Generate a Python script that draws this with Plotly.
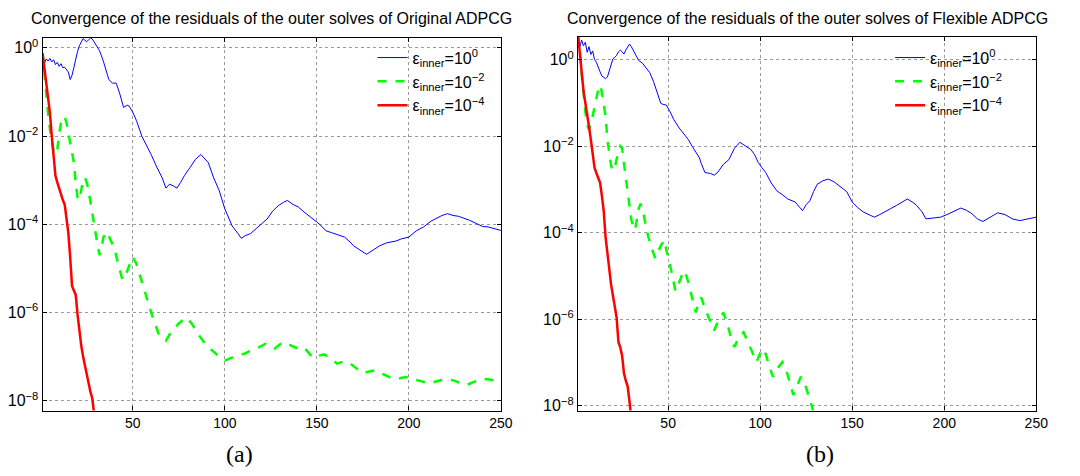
import plotly.graph_objects as go

# ---------------- data (residuals stored as log10) ----------------
a_blue_it = [1,2,3,4,5,6,7,8,9,10,11,12,13,14,15,16,17,18,19,20,21,22,23,24,25,26,27,28,30,32,34,36,37,39,41,43,45,47,48,50,52,55,58,60,63,66,68,70,72,74,76,78,81,84,87,89,91,94,97,100,102,104,107,109,111,114,117,120,123,126,129,132,134,137,140,143,147,150,152,155,158,161,165,168,170,174,177,180,184,188,193,196,200,204,208,212,215,218,221,224,227,230,233,236,240,243,246,250]
a_blue_lg = [-0.56,-0.35,-0.25,-0.30,-0.24,-0.32,-0.27,-0.38,-0.33,-0.42,-0.36,-0.45,-0.44,-0.50,-0.55,-0.72,-0.62,-0.45,-0.25,-0.08,0.05,0.15,0.21,0.17,0.14,0.18,0.22,0.20,0.05,-0.07,-0.30,-0.55,-0.72,-0.80,-0.80,-1.05,-1.35,-1.30,-1.32,-1.46,-1.65,-2.01,-2.25,-2.42,-2.70,-2.95,-3.18,-3.09,-3.13,-3.18,-3.05,-2.90,-2.72,-2.53,-2.42,-2.50,-2.60,-2.95,-3.24,-3.65,-3.85,-4.04,-4.20,-4.32,-4.26,-4.21,-4.10,-3.98,-3.88,-3.70,-3.58,-3.50,-3.46,-3.55,-3.61,-3.72,-3.84,-3.95,-4.02,-4.15,-4.19,-4.23,-4.29,-4.40,-4.49,-4.60,-4.68,-4.60,-4.49,-4.42,-4.38,-4.33,-4.29,-4.15,-4.06,-3.93,-3.87,-3.80,-3.76,-3.80,-3.82,-3.86,-3.91,-3.97,-4.05,-4.06,-4.10,-4.14]

a_green_it = [1,2,3,4,5,6,7,8,9,10,11,12,13,14,15,16,17,18,19,20,21,22,23,24,25,26,28,30,31,32,33,34,36,38,40,42,44,45,47,49,50,52,54,56,58,60,62,64,66,68,70,72,75,79,82,86,90,93,97,100,104,107,111,114,118,122,125,127,130,132,136,140,143,146,148,151,154,158,161,164,167,171,175,179,182,186,190,193,196,200,205,211,215,220,225,231,235,240,244,248,250]
a_green_lg = [-0.12,-0.6,-1.1,-1.5,-1.85,-2.15,-2.35,-2.42,-2.30,-1.95,-1.70,-1.58,-1.56,-1.70,-1.95,-2.15,-2.40,-2.60,-3.05,-3.40,-3.45,-3.20,-3.00,-2.94,-3.05,-3.24,-3.70,-4.25,-4.50,-4.70,-4.55,-4.30,-4.17,-4.35,-4.55,-4.88,-5.20,-5.26,-5.05,-4.80,-4.74,-4.90,-5.17,-5.45,-5.75,-6.00,-6.23,-6.48,-6.55,-6.64,-6.50,-6.38,-6.25,-6.11,-6.25,-6.52,-6.75,-6.86,-7.00,-7.09,-7.02,-6.97,-6.93,-6.86,-6.80,-6.71,-6.78,-6.82,-6.72,-6.67,-6.75,-6.82,-6.79,-6.95,-7.03,-6.98,-6.95,-7.05,-7.16,-7.12,-7.12,-7.25,-7.38,-7.33,-7.31,-7.40,-7.48,-7.52,-7.48,-7.46,-7.54,-7.61,-7.56,-7.50,-7.55,-7.65,-7.58,-7.50,-7.52,-7.55,-7.58]

a_red_it = list(range(1, 30))
a_red_lg = [-0.12,-0.45,-0.80,-1.15,-1.48,-2.00,-2.50,-2.90,-3.05,-3.20,-3.32,-3.45,-3.55,-3.85,-4.20,-4.75,-5.40,-5.50,-5.60,-6.05,-6.45,-6.75,-7.00,-7.20,-7.45,-7.65,-7.80,-7.95,-8.30]

b_blue_it = [1,2,3,4,5,6,7,8,9,10,11,12,13,14,15,16,17,18,19,20,21,22,23,24,25,26,27,28,29,30,32,34,36,38,40,42,44,46,47,49,51,53,56,58,61,63,65,67,68,70,73,75,77,80,83,86,89,92,95,97,99,101,103,106,109,112,115,119,121,123,125,127,129,131,134,137,140,142,145,147,150,153,156,159,162,165,168,171,174,177,180,183,185,188,190,194,198,202,206,209,212,215,218,221,225,229,233,237,241,245,250]
b_blue_lg = [0.51,0.30,0.45,0.32,0.40,0.17,0.30,0.12,0.20,0.00,-0.06,-0.15,-0.28,-0.38,-0.42,-0.44,-0.40,-0.25,-0.08,0.02,0.05,0.10,0.18,0.22,0.18,0.13,0.22,0.30,0.36,0.30,0.15,-0.02,-0.08,-0.20,-0.30,-0.50,-0.75,-1.01,-1.03,-1.05,-1.20,-1.38,-1.58,-1.70,-1.85,-2.00,-2.15,-2.27,-2.40,-2.61,-2.63,-2.67,-2.60,-2.42,-2.31,-2.05,-1.91,-2.00,-2.08,-2.20,-2.38,-2.50,-2.61,-2.85,-3.03,-3.12,-3.22,-3.29,-3.38,-3.49,-3.35,-3.26,-3.05,-2.88,-2.80,-2.76,-2.82,-2.88,-2.98,-3.05,-3.29,-3.42,-3.52,-3.58,-3.64,-3.58,-3.50,-3.44,-3.37,-3.30,-3.22,-3.30,-3.37,-3.52,-3.68,-3.66,-3.64,-3.57,-3.48,-3.43,-3.48,-3.56,-3.68,-3.74,-3.64,-3.54,-3.58,-3.68,-3.72,-3.69,-3.64]

b_green_it = [1,2,3,4,5,6,7,8,9,10,11,12,13,14,15,16,17,18,19,20,21,22,23,24,25,26,27,28,29,30,31,32,33,34,35,36,38,39,41,43,44,46,48,49,51,53,54,56,58,59,61,63,65,67,68,70,72,75,77,79,80,82,84,86,88,91,93,95,98,101,103,105,107,109,112,114,116,118,120,122,124,126,128,129]
b_green_lg = [0.55,0.2,-0.3,-0.8,-1.2,-1.5,-1.62,-1.50,-1.30,-1.15,-0.95,-0.70,-0.59,-0.75,-1.05,-1.30,-1.85,-2.20,-2.45,-2.57,-2.50,-2.30,-2.10,-2.00,-2.05,-2.40,-2.75,-3.07,-3.40,-3.70,-3.85,-3.94,-3.70,-3.45,-3.33,-3.45,-3.85,-4.06,-4.35,-4.59,-4.50,-4.30,-4.17,-4.40,-4.74,-5.10,-5.35,-5.15,-4.92,-4.88,-5.15,-5.50,-5.84,-5.55,-5.50,-5.75,-5.96,-6.26,-6.05,-5.90,-5.85,-6.07,-6.40,-6.64,-6.45,-6.30,-6.50,-6.70,-6.99,-6.68,-6.80,-7.10,-7.33,-7.15,-6.99,-7.15,-7.45,-7.75,-7.55,-7.33,-7.45,-7.70,-8.00,-8.15]

b_red_it = list(range(1, 31))
b_red_lg = [0.60,0.10,-0.35,-0.72,-1.00,-1.24,-1.55,-1.85,-2.20,-2.50,-2.62,-2.75,-2.84,-3.15,-3.50,-4.10,-4.50,-4.85,-5.20,-5.45,-5.70,-5.96,-6.53,-6.65,-6.85,-7.25,-7.42,-7.55,-7.90,-8.30]

series_names = ["ε<sub>inner</sub>=10<sup>0</sup>",
                "ε<sub>inner</sub>=10<sup>−2</sup>",
                "ε<sub>inner</sub>=10<sup>−4</sup>"]
titles = ["Convergence of the residuals of the outer solves of Original ADPCG",
          "Convergence of the residuals of the outer solves of Flexible ADPCG"]
panel_labels = ["(a)", "(b)"]
x_ticks = [50, 100, 150, 200, 250]
y_tick_exps = [0, -2, -4, -6, -8]
y_tick_text = ["10<sup>0</sup>", "10<sup>−2</sup>", "10<sup>−4</sup>", "10<sup>−6</sup>", "10<sup>−8</sup>"]

# ---------------- figure ----------------
# the page body keeps an 8px margin, so the figure is 16px smaller than the window
OFF = 8
W, H = 1080 - 2 * OFF, 476 - 2 * OFF
fig = go.Figure()

styles = [dict(color="#0000ff", width=1.0),
          dict(color="#00ff00", width=2.5, dash="dash"),
          dict(color="#ff0000", width=2.5)]

panels = [
    ("x", "y", "legend", [(a_blue_it, a_blue_lg), (a_green_it, a_green_lg), (a_red_it, a_red_lg)]),
    ("x2", "y2", "legend2", [(b_blue_it, b_blue_lg), (b_green_it, b_green_lg), (b_red_it, b_red_lg)]),
]
for xa, ya, lg, data in panels:
    for k, (it, lgv) in enumerate(data):
        fig.add_trace(go.Scatter(
            x=it, y=[10 ** v for v in lgv], mode="lines",
            line=styles[k], name=series_names[k],
            xaxis=xa, yaxis=ya, legend=lg, showlegend=True))

def px_x(p):
    return (p - OFF) / W

def px_y(p):
    return 1 - (p - OFF) / H

axis_common = dict(
    showline=True, linecolor="black", linewidth=1.2, mirror="ticks",
    ticks="inside", ticklen=4, tickcolor="black",
    showgrid=True, gridcolor="#9a9a9a", griddash="dot", gridwidth=1,
    zeroline=False,
)
xfont = dict(family="Liberation Sans, Arial", size=14, color="black")
yfont = dict(family="Liberation Sans, Arial", size=16, color="black")

fig.update_layout(
    width=W, height=H,
    margin=dict(l=0, r=0, t=0, b=0),
    paper_bgcolor="white", plot_bgcolor="white",
    hovermode=False,
    font=dict(family="Liberation Sans, Arial", color="black"),
    xaxis=dict(domain=[px_x(42), px_x(506)], range=[1, 250], tickvals=x_ticks,
               anchor="y", tickfont=xfont, **axis_common),
    yaxis=dict(domain=[px_y(414), px_y(37)], type="log", range=[-8.224, 0.23],
               tickvals=[10 ** e for e in y_tick_exps], ticktext=y_tick_text,
               anchor="x", tickfont=yfont, **axis_common),
    xaxis2=dict(domain=[px_x(584), px_x(1048)], range=[1, 250], tickvals=x_ticks,
                anchor="y2", tickfont=xfont, **axis_common),
    yaxis2=dict(domain=[px_y(414), px_y(36)], type="log", range=[-8.11, 0.53],
                tickvals=[10 ** e for e in y_tick_exps], ticktext=y_tick_text,
                anchor="x2", tickfont=yfont, **axis_common),
    legend=dict(x=px_x(376), y=px_y(40), xanchor="left", yanchor="top",
                bgcolor="rgba(0,0,0,0)", font=dict(size=16), tracegroupgap=0,
                itemwidth=30),
    legend2=dict(x=px_x(900), y=px_y(40), xanchor="left", yanchor="top",
                 bgcolor="rgba(0,0,0,0)", font=dict(size=16), tracegroupgap=0,
                 itemwidth=30),
)

for i, cx in enumerate([274, 816]):
    fig.add_annotation(text=titles[i], x=px_x(cx), y=px_y(18), xref="paper", yref="paper",
                       xanchor="center", yanchor="middle", showarrow=False,
                       font=dict(size=16, family="Liberation Sans, Arial"))
for i, cx in enumerate([241, 829]):
    fig.add_annotation(text=panel_labels[i], x=px_x(cx), y=px_y(458), xref="paper", yref="paper",
                       xanchor="center", yanchor="middle", showarrow=False,
                       font=dict(size=24, family="Liberation Serif, DejaVu Serif"))

fig.write_html("out.html", config={"displayModeBar": False})
